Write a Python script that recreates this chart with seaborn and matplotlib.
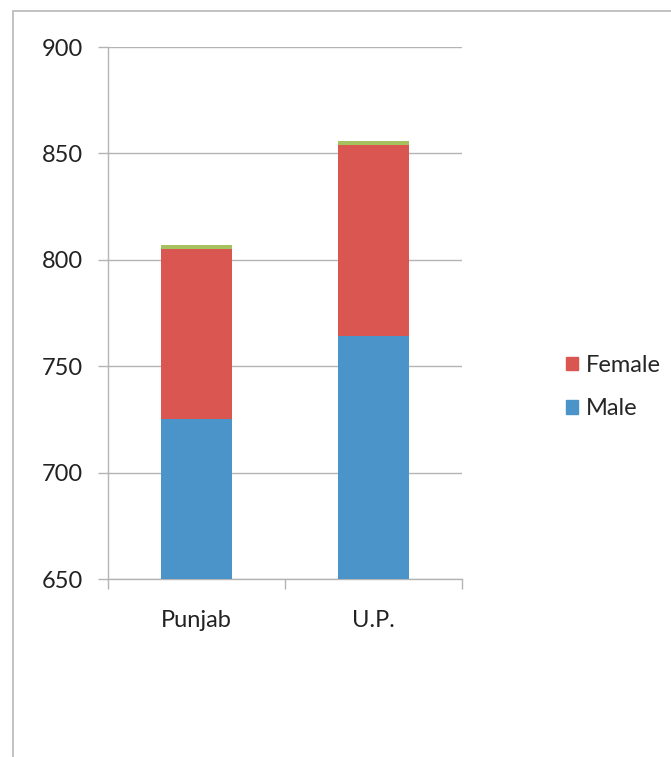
import matplotlib
matplotlib.use("Agg")
import matplotlib.pyplot as plt
import matplotlib.patches as mpatches
import seaborn as sns
import pandas as pd

states = ["Punjab", "U.P."]
male = [725, 764]
female = [80, 90]
other = [2, 2]

series_colors = {"Male": "#4a94c9", "Female": "#d95750", "Other": "#a5c25f"}
grid_col = "#b4b4b4"

sns.set_style("white")
plt.rcParams["font.family"] = ["Lato", "DejaVu Sans"]

df = pd.DataFrame({"state": states, "male": male, "female": female, "other": other})
df["mf"] = df["male"] + df["female"]
df["total"] = df["mf"] + df["other"]

fig = plt.figure(figsize=(6.71, 7.57), dpi=100)
ax = fig.add_axes([108 / 671, 1 - 579 / 757, 354 / 671, 532 / 757])

# stacked bars by overlaying cumulative heights
for col, name in [("total", "Other"), ("mf", "Female"), ("male", "Male")]:
    sns.barplot(data=df, x="state", y=col, color=series_colors[name],
                width=0.4, saturation=1, ax=ax, zorder=3, edgecolor="none")

ax.set_ylim(650, 900)
ax.set_xlim(-0.5, 1.5)
ax.set_yticks([650, 700, 750, 800, 850, 900])
ax.yaxis.grid(True, color=grid_col, lw=1)
ax.set_axisbelow(True)
ax.set_xlabel("")
ax.set_ylabel("")

for s in ["top", "right"]:
    ax.spines[s].set_visible(False)
for s in ["left", "bottom"]:
    ax.spines[s].set_color(grid_col)
    ax.spines[s].set_linewidth(1)

ax.set_xticks([-0.5, 0.5, 1.5], minor=True)
ax.tick_params(axis="x", which="minor", bottom=True, length=7, color=grid_col, width=1)
ax.tick_params(axis="x", which="major", bottom=False, length=0, pad=22, labelsize=17, labelcolor="#222222")
ax.tick_params(axis="y", left=True, length=7, color=grid_col, width=1, pad=11, labelsize=17, labelcolor="#222222")

handles = [mpatches.Patch(color=series_colors["Female"], label="Female"),
           mpatches.Patch(color=series_colors["Male"], label="Male")]
fig.legend(handles=handles, loc="center left", bbox_to_anchor=(545 / 671, 1 - 387 / 757),
           frameon=False, fontsize=17, handlelength=0.5, handleheight=0.5,
           handletextpad=0.35, labelspacing=0.95)

# outer chart border
fig.patches.append(mpatches.Rectangle((13 / 671, -0.05), 1.0, 1 - 11 / 757 + 0.05,
                                      transform=fig.transFigure, fill=False,
                                      edgecolor="#b8b8b8", lw=1.2))

fig.savefig("out.png", dpi=100)
